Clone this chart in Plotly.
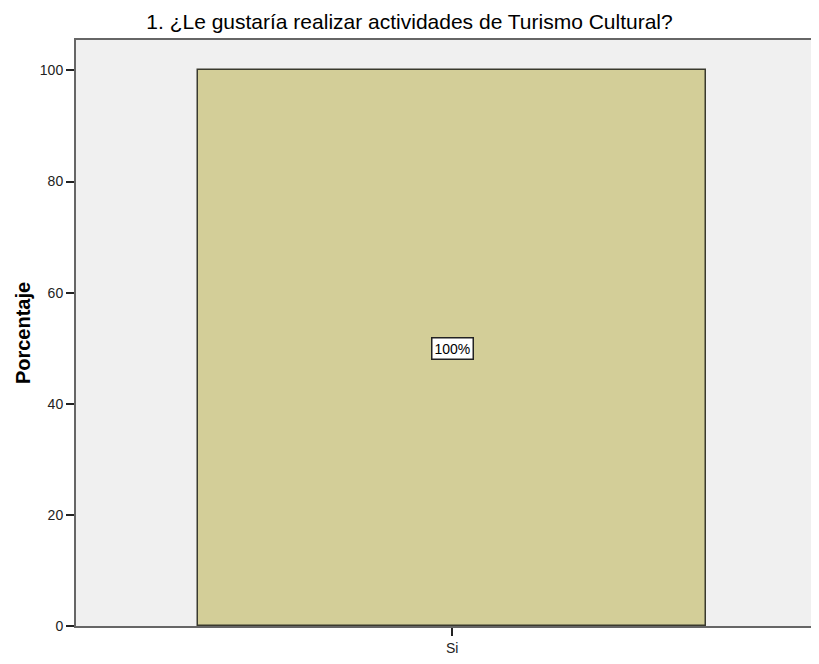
import plotly.graph_objects as go

categories = ["Si"]
values = [100]
labels = ["100%"]
y_ticks = [0, 20, 40, 60, 80, 100]

FONT = "Liberation Sans, Arial, sans-serif"

fig = go.Figure()
fig.add_trace(go.Bar(
    x=categories, y=values, width=0.675,
    marker=dict(color="#D3CE98", line=dict(color="#3a3a2e", width=1.5)),
    hoverinfo="skip",
))
for c, v, t in zip(categories, values, labels):
    fig.add_annotation(x=c, y=v / 2, text=t, showarrow=False,
                       font=dict(family=FONT, size=14, color="#000"),
                       bgcolor="#ffffff", bordercolor="#222222", borderwidth=1.5, borderpad=2)

fig.update_layout(
    width=803, height=648,
    margin=dict(l=68, r=0, t=32, b=18),
    paper_bgcolor="#ffffff", plot_bgcolor="#F0F0F0",
    title=dict(text="1. ¿Le gustaría realizar actividades de Turismo Cultural?",
               x=0.5, xanchor="center", y=0.99, yanchor="top",
               font=dict(family=FONT, size=21, color="#000")),
    showlegend=False,
    bargap=0,
)
fig.update_xaxes(range=[-0.5, 0.477], showline=True, linecolor="#666", linewidth=2, mirror=True,
                 ticks="outside", ticklen=8, tickcolor="#222", tickwidth=1.5, showgrid=False,
                 tickfont=dict(family=FONT, size=14, color="#222"))
fig.update_yaxes(range=[0, 105.47], tickvals=y_ticks, showline=True, linecolor="#666", linewidth=2,
                 ticks="outside", ticklen=8, tickcolor="#222", tickwidth=1.5, showgrid=False, zeroline=False,
                 tickfont=dict(family=FONT, size=14, color="#222"),
                 title=dict(text="<b>Porcentaje</b>", standoff=4,
                            font=dict(family=FONT, size=20, color="#000")))

fig.write_html("out.html")
